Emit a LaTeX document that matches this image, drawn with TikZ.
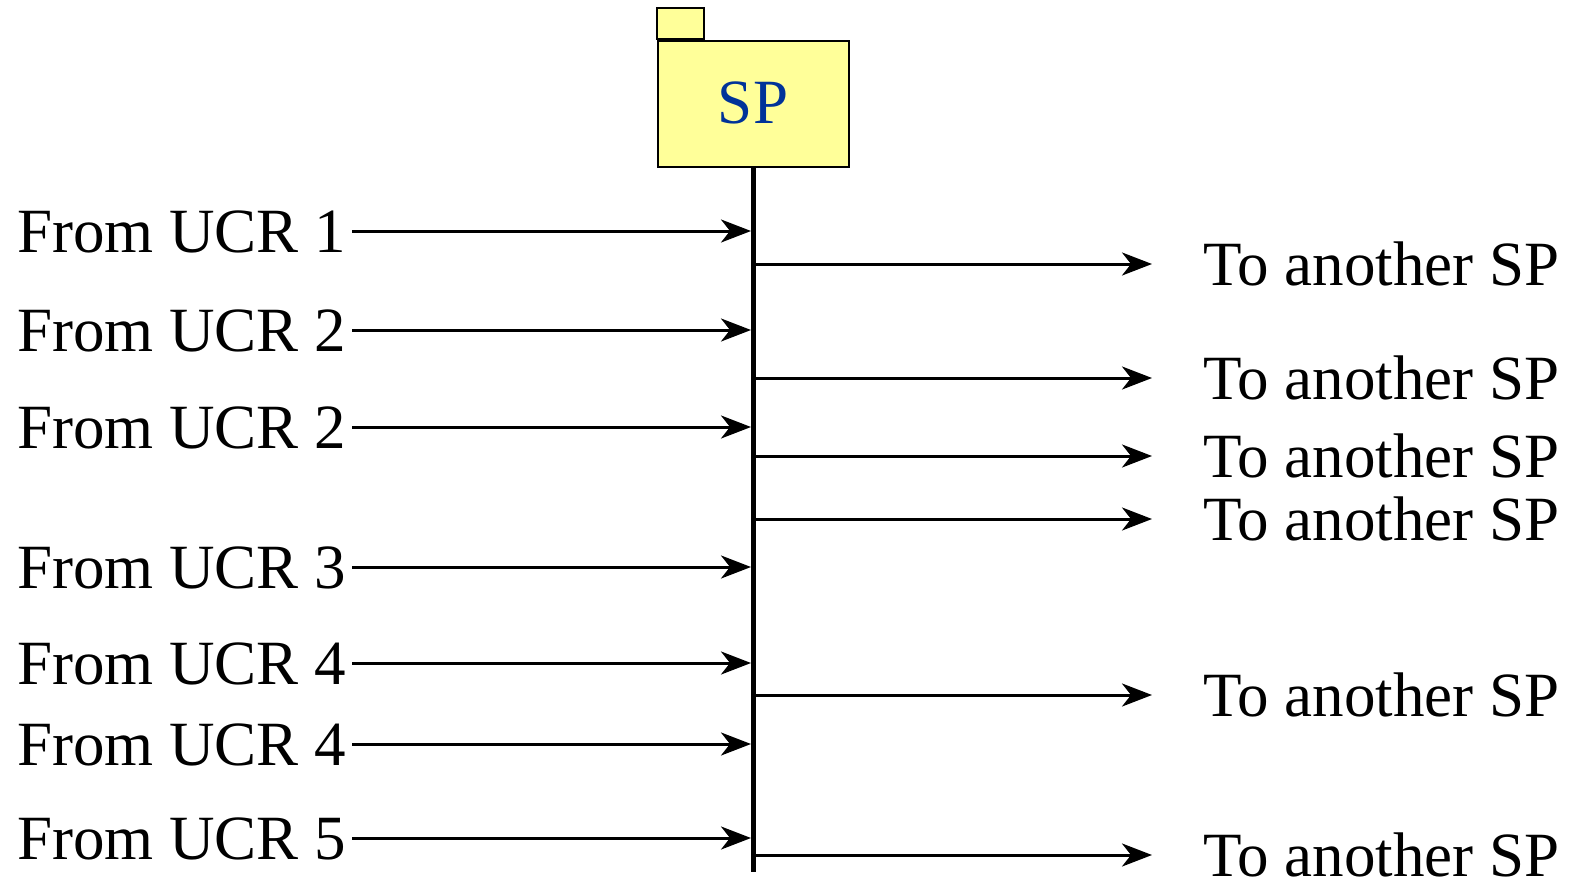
\documentclass[tikz,border=0pt]{standalone}
\usepackage{fontspec}
\setmainfont{Liberation Serif}
\usetikzlibrary{arrows.meta}
\definecolor{spfill}{RGB}{255,255,153}
\definecolor{spblue}{RGB}{0,51,153}
\tikzset{
  lbl/.style={font=\fontsize{63}{76}\selectfont, inner sep=0pt},
  msg/.style={line width=3pt, -{Stealth[length=30pt,width=23pt,inset=9pt]}},
  box/.style={draw, line width=2pt, fill=spfill},
}
\begin{document}
\begin{tikzpicture}[x=1pt,y=-1pt]
\useasboundingbox (0,0) rectangle (1578,878);
\draw[box] (657,8) rectangle (704,39);
\node[box, minimum width=191pt, minimum height=126pt, anchor=north west, inner sep=0pt] (sp) at (657,40) {};
\node[lbl, text=spblue] (sptext) at (753,103) {SP};
\coordinate (lifetop) at (sp.south -| 753,0);
\coordinate (lifebot) at (753,872);
\draw[line width=5pt] (lifetop) -- (lifebot);
% incoming
\foreach \y/\n/\t in {231/a/1,330/b/2,427/c/2,567/d/3,663/e/4,744/f/4,838/g/5}{
  \node[lbl, anchor=base west] (from\n) at (17,\y+21) {From UCR \t};
  \coordinate (in\n) at (751,\y);
  \draw[msg] (from\n.east |- 0,\y) ++(6,0) -- (in\n);
}
% outgoing
\foreach \y/\n in {264/a,378/b,456/c,519/d,695/e,855/f}{
  \coordinate (out\n) at (753,\y);
  \coordinate (end\n) at (1152,\y);
  \draw[msg] (out\n) -- (end\n);
  \node[lbl, anchor=base west] (to\n) at (1203,\y+21) {To another SP};
}
\end{tikzpicture}
\end{document}
